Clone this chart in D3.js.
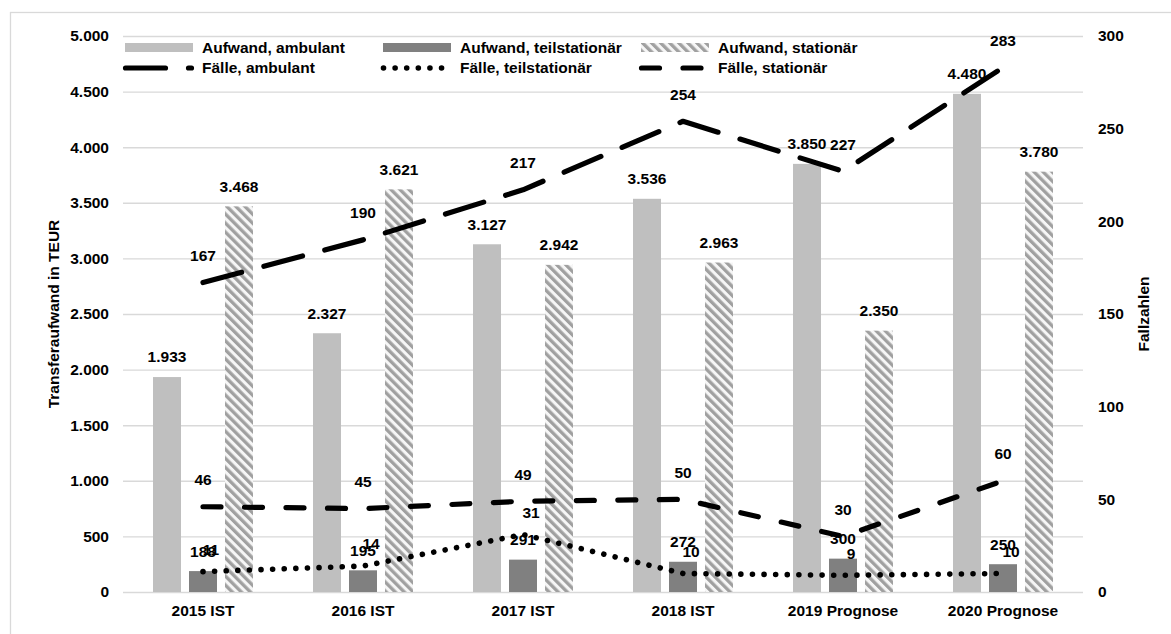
<!DOCTYPE html>
<html lang="de">
<head>
<meta charset="utf-8">
<title>Transferaufwand und Fallzahlen</title>
<script src="https://cdn.jsdelivr.net/npm/d3@7/dist/d3.min.js"></script>
<style>
  html, body { margin: 0; padding: 0; background: #fff; }
  svg { display: block; font-family: "Liberation Sans", Arial, sans-serif; font-weight: bold; }
</style>
</head>
<body>
<svg id="chart" width="1171" height="634"></svg>
<script>
// Kategorien und Werte
const categories = ["2015 IST", "2016 IST", "2017 IST", "2018 IST", "2019 Prognose", "2020 Prognose"];
const aufwandAmbulant = [1933, 2327, 3127, 3536, 3850, 4480];
const aufwandTeilstationaer = [188, 195, 291, 272, 300, 250];
const aufwandStationaer = [3468, 3621, 2942, 2963, 2350, 3780];
const faelleAmbulant = [167, 190, 217, 254, 227, 283];
const faelleTeilstationaer = [11, 14, 31, 10, 9, 10];
const faelleStationaer = [46, 45, 49, 50, 30, 60];
const leftTicks = [0, 500, 1000, 1500, 2000, 2500, 3000, 3500, 4000, 4500, 5000];
const rightTicks = [0, 50, 100, 150, 200, 250, 300];
const barSeriesNames = ["Aufwand, ambulant", "Aufwand, teilstationär", "Aufwand, stationär"];
const lineSeriesNames = ["Fälle, ambulant", "Fälle, teilstationär", "Fälle, stationär"];

const de = d3.formatLocale({ decimal: ",", thousands: ".", grouping: [3], currency: ["", " €"] });
const fmt = de.format(",.0f");

const svg = d3.select("#chart");
const plot = { left: 123, right: 1083, top: 36, bottom: 592 };
const FONT = 15.5;

// Rahmen
svg.append("rect")
  .attr("x", 10.5).attr("y", 12.5).attr("width", 1300).attr("height", 800)
  .attr("fill", "#fff").attr("stroke", "#d9d9d9").attr("stroke-width", 1.3);

// Schraffur für stationären Aufwand
const defs = svg.append("defs");
const pat = defs.append("pattern")
  .attr("id", "hatch").attr("patternUnits", "userSpaceOnUse")
  .attr("width", 6.4).attr("height", 6.4)
  .attr("patternTransform", "rotate(-45)");
pat.append("rect").attr("width", 6.4).attr("height", 6.4).attr("fill", "#f6f6f6");
pat.append("rect").attr("x", 0).attr("width", 3.3).attr("height", 6.4).attr("fill", "#a0a0a0");

// Skalen
const x0 = d3.scaleBand().domain(categories)
  .range([plot.left, plot.right]).paddingInner(0.375).paddingOuter(0.1875);
const x1 = d3.scaleBand().domain(barSeriesNames)
  .range([0, x0.bandwidth()]).paddingInner(0.2222).paddingOuter(0);
const yL = d3.scaleLinear().domain([0, 5000]).range([plot.bottom, plot.top]);
const yR = d3.scaleLinear().domain([0, 300]).range([plot.bottom, plot.top]);
const cx = c => x0(c) + x0.bandwidth() / 2;

// Gitterlinien
svg.append("g")
  .attr("transform", `translate(${plot.left},0)`)
  .call(d3.axisLeft(yL).tickValues(leftTicks).tickSize(-(plot.right - plot.left)).tickFormat(""))
  .call(g => g.select(".domain").remove())
  .call(g => g.selectAll("line").attr("stroke", "#d9d9d9").attr("stroke-width", 1.4));

// Achsen
svg.append("g")
  .attr("transform", `translate(${plot.left},0)`)
  .call(d3.axisLeft(yL).tickValues(leftTicks).tickSize(0).tickPadding(14).tickFormat(fmt))
  .call(g => g.select(".domain").remove())
  .call(g => g.selectAll("text").attr("font-size", FONT).attr("font-family", null).attr("fill", "#000"));

svg.append("g")
  .attr("transform", `translate(${plot.right},0)`)
  .call(d3.axisRight(yR).tickValues(rightTicks).tickSize(0).tickPadding(15).tickFormat(fmt))
  .call(g => g.select(".domain").remove())
  .call(g => g.selectAll("text").attr("font-size", FONT).attr("font-family", null).attr("fill", "#000"));

svg.append("g")
  .attr("transform", `translate(0,${plot.bottom})`)
  .call(d3.axisBottom(x0).tickSize(0).tickPadding(13))
  .call(g => g.select(".domain").remove())
  .call(g => g.selectAll("text").attr("font-size", FONT).attr("font-family", null).attr("fill", "#000"));

// Achsentitel
svg.append("text")
  .attr("transform", `translate(58.5,${(plot.top + plot.bottom) / 2}) rotate(-90)`)
  .attr("text-anchor", "middle").attr("font-size", FONT).text("Transferaufwand in TEUR");
svg.append("text")
  .attr("transform", `translate(1148.5,${(plot.top + plot.bottom) / 2}) rotate(-90)`)
  .attr("text-anchor", "middle").attr("font-size", FONT).text("Fallzahlen");

// Balken
const barSeries = [
  { name: barSeriesNames[0], values: aufwandAmbulant, fill: "#bfbfbf" },
  { name: barSeriesNames[1], values: aufwandTeilstationaer, fill: "#808080" },
  { name: barSeriesNames[2], values: aufwandStationaer, fill: "url(#hatch)" }
];
const barG = svg.append("g");
barSeries.forEach(s => {
  barG.selectAll(null).data(s.values).join("rect")
    .attr("x", (d, i) => x0(categories[i]) + x1(s.name))
    .attr("y", d => yL(d))
    .attr("width", x1.bandwidth())
    .attr("height", d => yL(0) - yL(d))
    .attr("fill", s.fill);
});

// Linien
const lineSeries = [
  { name: lineSeriesNames[0], values: faelleAmbulant, dash: "40 23", width: 5.2, labelDx: 0, labelDy: -27 },
  { name: lineSeriesNames[1], values: faelleTeilstationaer, dash: "0.01 11.6", width: 5.6, labelDx: 8, labelDy: -22 },
  { name: lineSeriesNames[2], values: faelleStationaer, dash: "18 23.5", width: 5.2, labelDx: 0, labelDy: -27 }
];
const lineGen = d3.line().x((d, i) => cx(categories[i])).y(d => yR(d));
const lineG = svg.append("g");
lineSeries.forEach(s => {
  lineG.append("path")
    .datum(s.values)
    .attr("d", lineGen)
    .attr("fill", "none")
    .attr("stroke", "#000")
    .attr("stroke-width", s.width)
    .attr("stroke-linecap", "round")
    .attr("stroke-linejoin", "round")
    .attr("stroke-dasharray", s.dash);
});

// Datenbeschriftungen
const labelG = svg.append("g").attr("font-size", FONT).attr("text-anchor", "middle");
barSeries.forEach(s => {
  labelG.selectAll(null).data(s.values).join("text")
    .attr("x", (d, i) => x0(categories[i]) + x1(s.name) + x1.bandwidth() / 2)
    .attr("y", d => yL(d) - 20)
    .attr("dy", "0.35em")
    .text(d => fmt(d));
});
lineSeries.forEach(s => {
  labelG.selectAll(null).data(s.values).join("text")
    .attr("x", (d, i) => cx(categories[i]) + s.labelDx)
    .attr("y", d => yR(d) + s.labelDy)
    .attr("dy", "0.35em")
    .text(d => fmt(d));
});

// Legende
const legendCols = [125, 383, 641];
const legend = svg.append("g").attr("font-size", FONT);
barSeries.forEach((s, i) => {
  legend.append("rect")
    .attr("x", legendCols[i]).attr("y", 43)
    .attr("width", 68).attr("height", 9)
    .attr("fill", s.fill);
  legend.append("text")
    .attr("x", legendCols[i] + 77).attr("y", 47.5).attr("dy", "0.35em")
    .text(s.name);
});
lineSeries.forEach((s, i) => {
  legend.append("line")
    .attr("x1", legendCols[i] + 0.5).attr("x2", legendCols[i] + 66.5)
    .attr("y1", 68).attr("y2", 68)
    .attr("stroke", "#000").attr("stroke-width", s.width)
    .attr("stroke-linecap", "round")
    .attr("stroke-dasharray", s.dash);
  legend.append("text")
    .attr("x", legendCols[i] + 77).attr("y", 68).attr("dy", "0.35em")
    .text(s.name);
});
</script>
</body>
</html>
